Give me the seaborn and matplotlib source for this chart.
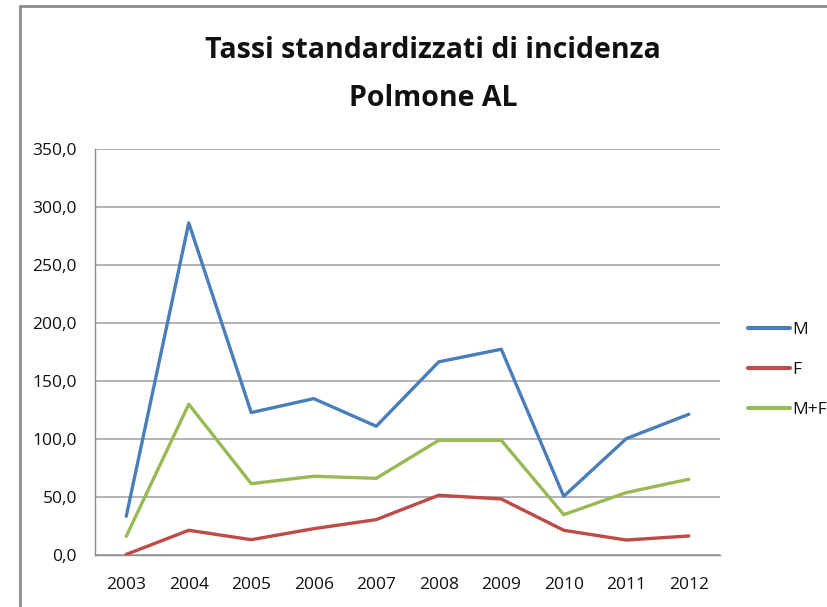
import matplotlib
matplotlib.use("Agg")
import matplotlib.pyplot as plt
import seaborn as sns
import pandas as pd
from matplotlib.lines import Line2D
from matplotlib.ticker import FuncFormatter

years = ["2003", "2004", "2005", "2006", "2007", "2008", "2009", "2010", "2011", "2012"]
m_vals = [33.4, 286.3, 122.8, 134.8, 111.0, 166.5, 177.4, 50.6, 100.3, 121.3]
f_vals = [0.5, 21.3, 13.2, 22.7, 30.5, 51.5, 48.3, 21.3, 12.9, 16.4]
mf_vals = [16.1, 130.0, 61.5, 67.9, 66.1, 98.9, 98.9, 34.8, 53.8, 65.3]
series_names = ["M", "F", "M+F"]
colors = ["#4A7EBB", "#BE4B48", "#98B954"]

rows = []
for name, vals in zip(series_names, [m_vals, f_vals, mf_vals]):
    for i, (y, v) in enumerate(zip(years, vals)):
        rows.append({"idx": i, "year": y, "value": v, "serie": name})
df = pd.DataFrame(rows)

sns.set_style("white")
plt.rcParams["font.family"] = ["Open Sans", "DejaVu Sans"]

fig = plt.figure(figsize=(8.28, 6.07), dpi=100)
W, H = 828, 607
ax = fig.add_axes([95 / W, 1 - 555 / H, (720 - 95) / W, (555 - 149) / H])

sns.lineplot(data=df, x="idx", y="value", hue="serie", hue_order=series_names,
             palette=colors, linewidth=2.4, ax=ax, legend=False)

ax.set_xlim(-0.5, 9.5)
ax.set_ylim(0, 350)
ax.set_xticks(range(len(years)))
ax.set_xticklabels(years)
ax.set_yticks([0, 50, 100, 150, 200, 250, 300, 350])
ax.yaxis.set_major_formatter(FuncFormatter(lambda v, p: f"{v:.1f}".replace(".", ",")))
ax.tick_params(axis="both", length=0, labelsize=12.5, colors="#111111")
ax.tick_params(axis="x", pad=16)
ax.tick_params(axis="y", pad=13)
ax.set_xlabel("")
ax.set_ylabel("")
ax.yaxis.grid(True, color="#A6A6A6", linewidth=1.2)
ax.set_axisbelow(True)
for s in ["top", "right"]:
    ax.spines[s].set_visible(False)
for s in ["left", "bottom"]:
    ax.spines[s].set_color("#8C8C8C")
    ax.spines[s].set_linewidth(1.0)

fig.text(433 / W, 1 - 50 / H, "Tassi standardizzati di incidenza", ha="center", va="center",
         fontsize=20.5, fontweight="bold", color="#111111")
fig.text(433 / W, 1 - 98 / H, "Polmone AL", ha="center", va="center",
         fontsize=20.5, fontweight="bold", color="#111111")

handles = [Line2D([0], [0], color=c, linewidth=3) for c in colors]
leg = fig.legend(handles, series_names, loc="upper left", bbox_to_anchor=(741 / W, 1 - 315 / H),
                 frameon=False, fontsize=12.5, handlelength=2.4, handletextpad=0.15,
                 labelspacing=1.38, borderaxespad=0)
for t in leg.get_texts():
    t.set_color("#111111")

# chart border (left and top)
fig.add_artist(Line2D([20 / W, 20 / W], [0, 1 - 6 / H], color="#8C8C8C", linewidth=2,
                      transform=fig.transFigure))
fig.add_artist(Line2D([20 / W, 1], [1 - 6 / H, 1 - 6 / H], color="#8C8C8C", linewidth=2,
                      transform=fig.transFigure))

fig.savefig("out.png", dpi=100)
